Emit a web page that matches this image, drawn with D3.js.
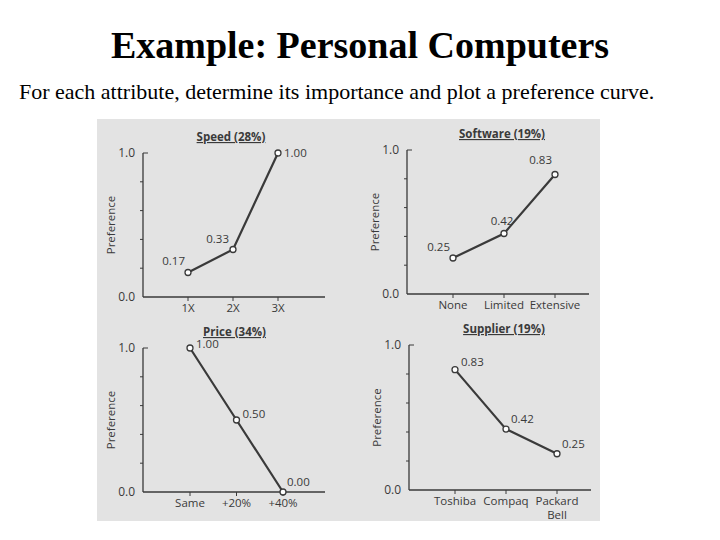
<!DOCTYPE html>
<html><head><meta charset="utf-8">
<script src="https://cdn.jsdelivr.net/npm/d3@7"></script>
<style>body{margin:0;background:#fff}</style>
</head><body>
<div id="chart"></div>
<script>
const titles = ["Speed (28%)", "Software (19%)", "Price (34%)", "Supplier (19%)"];
const categories = [
    ["1X", "2X", "3X"],
    ["None", "Limited", "Extensive"],
    ["Same", "+20%", "+40%"],
    ["Toshiba", "Compaq", "Packard Bell"]
];
const values = [
    [0.17, 0.33, 1.00],
    [0.25, 0.42, 0.83],
    [1.00, 0.50, 0.00],
    [0.83, 0.42, 0.25]
];
const yTicks = [0, 0.2, 0.4, 0.6, 0.8, 1.0];

// panel frames (left edge of y axis, top = 1.0 position)
const panels = [
    {x: 143, y: 153, w: 182, h: 144, c0: 45, c1: 135},
    {x: 407, y: 150, w: 182, h: 144, c0: 46, c1: 148},
    {x: 143, y: 348, w: 182, h: 144, c0: 47, c1: 140},
    {x: 409, y: 345, w: 182, h: 145, c0: 46, c1: 148}
];
// label offsets per point (dx, dy, anchor)
const labelPos = [
    [[-3, -8, "end"], [-4, -6, "end"], [6, 4, "start"]],
    [[-3, -7, "end"], [-2, -9, "middle"], [-3, -10, "end"]],
    [[6, 0, "start"], [6, -2, "start"], [4, -6, "start"]],
    [[6, -4, "start"], [5, -6, "start"], [5, -6, "start"]]
];

const svg = d3.select("#chart").append("svg")
    .attr("width", 720).attr("height", 540)
    .style("font-family", "'Open Sans', sans-serif");

svg.append("text")
    .attr("x", 360).attr("y", 58)
    .attr("text-anchor", "middle")
    .style("font-family", "'Liberation Serif', serif")
    .style("font-weight", "bold")
    .style("font-size", "38px")
    .text("Example: Personal Computers");

svg.append("text")
    .attr("x", 19).attr("y", 99)
    .style("font-family", "'Liberation Serif', serif")
    .style("font-size", "22px")
    .text("For each attribute, determine its importance and plot a preference curve.");

// scanned page background
svg.append("rect")
    .attr("x", 97).attr("y", 119).attr("width", 503).attr("height", 402)
    .attr("fill", "#e3e3e3");

const ink = "#3a3a3a";

panels.forEach((p, i) => {
    const g = svg.append("g").attr("transform", `translate(${p.x},${p.y})`);
    const x = d3.scalePoint().domain(categories[i]).range([p.c0, p.c1]);
    const y = d3.scaleLinear().domain([0, 1]).range([p.h, 0]);

    // y axis
    g.append("line").attr("x1", 0).attr("x2", 0).attr("y1", 0).attr("y2", p.h)
        .attr("stroke", ink).attr("stroke-width", 1.3);
    g.selectAll(".yt").data(yTicks.slice(1)).enter().append("line")
        .attr("x1", d => d === 1 ? 0 : -3).attr("x2", d => d === 1 ? 5 : 0)
        .attr("y1", d => y(d)).attr("y2", d => y(d))
        .attr("stroke", ink);
    g.selectAll(".yl").data([0, 1]).enter().append("text")
        .attr("x", -8).attr("y", d => y(d) + 4)
        .attr("text-anchor", "end")
        .attr("fill", ink).style("font-size", "12px")
        .text(d => d.toFixed(1));

    // x axis
    g.append("line").attr("x1", 0).attr("x2", p.w).attr("y1", p.h).attr("y2", p.h)
        .attr("stroke", ink).attr("stroke-width", 1.3);
    categories[i].forEach(c => {
        g.append("line").attr("x1", x(c)).attr("x2", x(c)).attr("y1", p.h).attr("y2", p.h + 4)
            .attr("stroke", ink);
        const words = c === "Packard Bell" ? ["Packard", "Bell"] : [c];
        words.forEach((w, k) => {
            g.append("text").attr("x", x(c)).attr("y", p.h + 15 + k * 14)
                .attr("text-anchor", "middle").attr("fill", ink)
                .style("font-size", "11.5px").text(w);
        });
    });

    g.append("text")
        .attr("transform", `translate(-28,${p.h / 2}) rotate(-90)`)
        .attr("text-anchor", "middle").attr("fill", ink)
        .style("font-size", "11.5px").text("Preference");

    g.append("text")
        .attr("x", x(categories[i][1]) - 2).attr("y", -12)
        .attr("text-anchor", "middle").attr("fill", ink)
        .style("font-size", "11.5px").style("font-weight", "bold")
        .style("text-decoration", "underline")
        .text(titles[i]);

    const pts = values[i].map((v, k) => [x(categories[i][k]), y(v)]);
    g.append("path").attr("d", d3.line()(pts))
        .attr("fill", "none").attr("stroke", ink).attr("stroke-width", 2.2);
    g.selectAll("circle").data(pts).enter().append("circle")
        .attr("cx", d => d[0]).attr("cy", d => d[1]).attr("r", 3)
        .attr("fill", "#fff").attr("stroke", ink).attr("stroke-width", 1.3);
    values[i].forEach((v, k) => {
        const [dx, dy, anc] = labelPos[i][k];
        g.append("text").attr("x", pts[k][0] + dx).attr("y", pts[k][1] + dy)
            .attr("text-anchor", anc).attr("fill", ink)
            .style("font-size", "11.5px").text(v.toFixed(2));
    });
});
</script>
</body></html>
